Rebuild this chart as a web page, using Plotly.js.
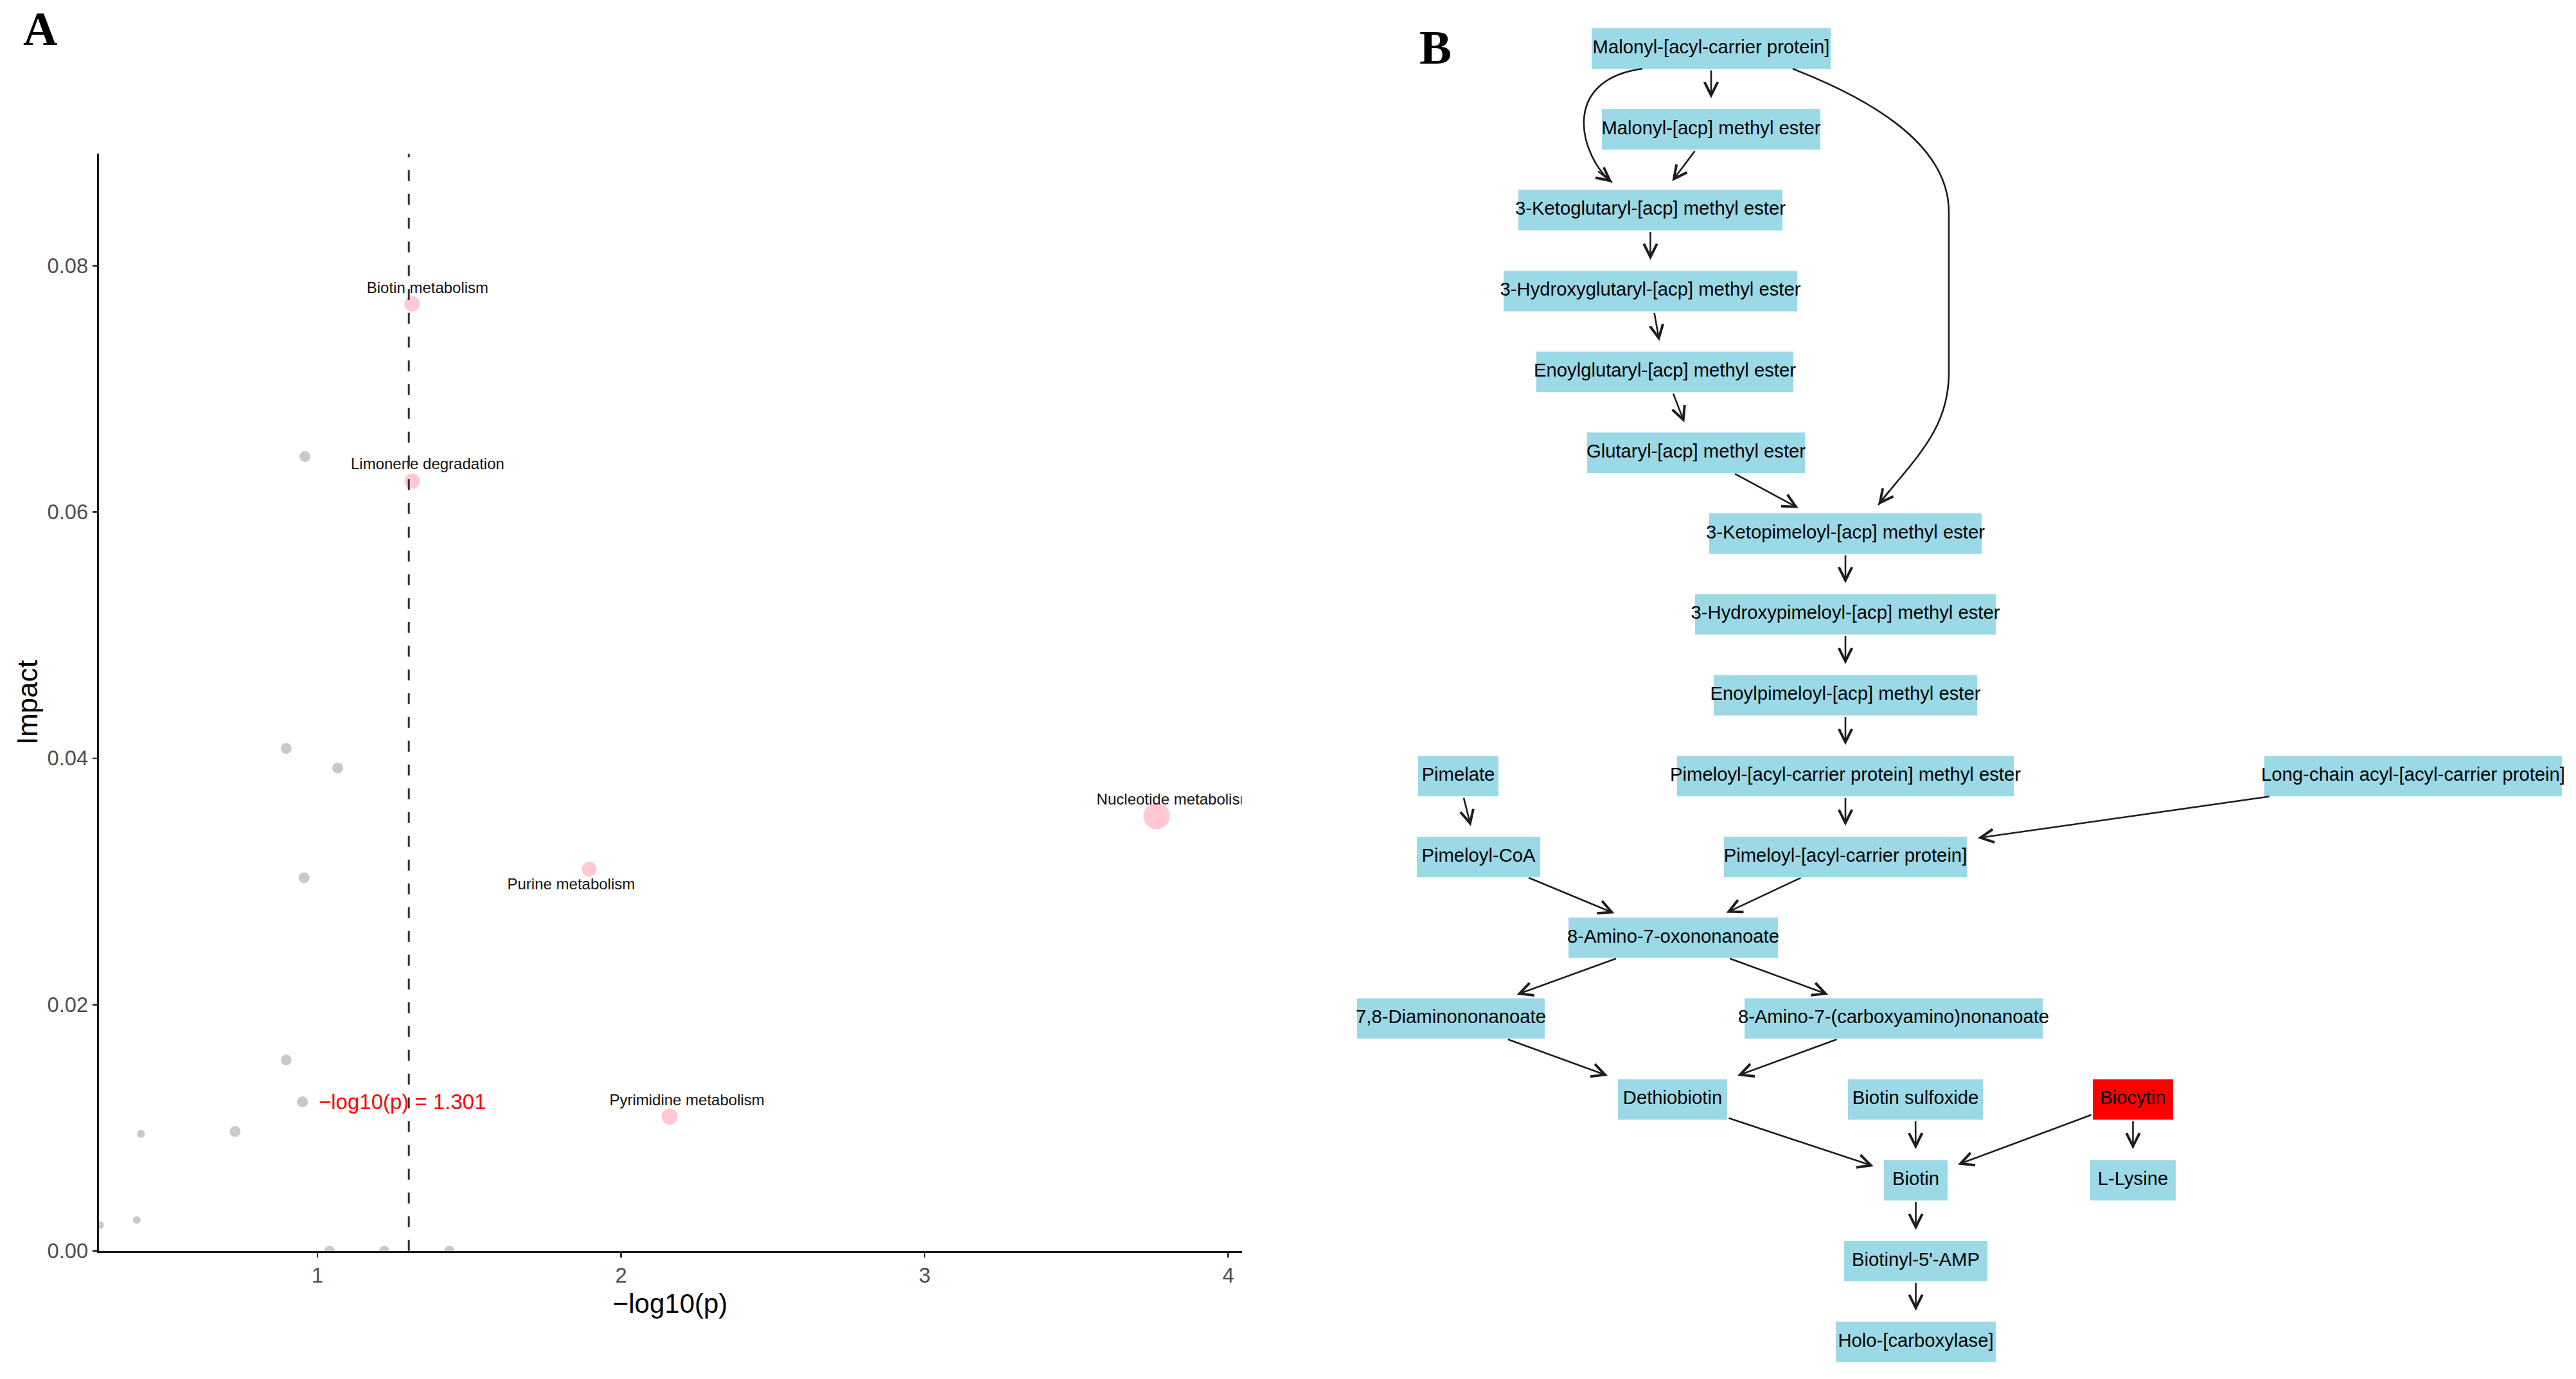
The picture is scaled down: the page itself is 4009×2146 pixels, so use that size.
<!DOCTYPE html>
<html>
<head>
<meta charset="utf-8">
<script src="https://cdn.plot.ly/plotly-3.0.1.min.js"></script>
<style>
  html, body { margin: 0; padding: 0; background: #ffffff; }
  #chart { width: 4009px; height: 2146px; }
</style>
</head>
<body>
<div id="chart"></div>
<script>
// ================= DATA =================
// Panel A: pathway analysis (x = -log10(p), y = pathway impact)
const sigPathways   = ['Biotin metabolism', 'Limonene degradation', 'Purine metabolism', 'Nucleotide metabolism', 'Pyrimidine metabolism'];
const sigNegLog10P  = [1.312, 1.312, 1.895, 3.764, 2.160];
const sigImpact     = [0.0769, 0.0625, 0.0310, 0.0353, 0.0109];

const otherNegLog10P = [0.959, 0.897, 1.067, 0.956, 0.897, 0.951, 0.419, 0.729, 0.405, 0.284, 1.040, 1.220, 1.435];
const otherImpact    = [0.0645, 0.0408, 0.0392, 0.0303, 0.0155, 0.0121, 0.0095, 0.0097, 0.0025, 0.0021, 0.0, 0.0, 0.0];

const pThreshold = 1.301;
const xTickVals  = [1, 2, 3, 4];
const yTickVals  = [0, 0.02, 0.04, 0.06, 0.08];
const yTickText  = ['0.00', '0.02', '0.04', '0.06', '0.08'];

// Panel B: biotin metabolism network
const metabolites = [
  'Malonyl-[acyl-carrier protein]', 'Malonyl-[acp] methyl ester', '3-Ketoglutaryl-[acp] methyl ester',
  '3-Hydroxyglutaryl-[acp] methyl ester', 'Enoylglutaryl-[acp] methyl ester', 'Glutaryl-[acp] methyl ester',
  '3-Ketopimeloyl-[acp] methyl ester', '3-Hydroxypimeloyl-[acp] methyl ester', 'Enoylpimeloyl-[acp] methyl ester',
  'Pimelate', 'Pimeloyl-[acyl-carrier protein] methyl ester', 'Long-chain acyl-[acyl-carrier protein]',
  'Pimeloyl-CoA', 'Pimeloyl-[acyl-carrier protein]', '8-Amino-7-oxononanoate',
  '7,8-Diaminononanoate', '8-Amino-7-(carboxyamino)nonanoate', 'Dethiobiotin',
  'Biotin sulfoxide', 'Biocytin', 'Biotin', 'L-Lysine', "Biotinyl-5'-AMP", 'Holo-[carboxylase]'
];
const matchedMetabolites = ['Biocytin'];
const reactionFrom = [
  'Malonyl-[acyl-carrier protein]', 'Malonyl-[acyl-carrier protein]', 'Malonyl-[acp] methyl ester',
  'Malonyl-[acyl-carrier protein]', '3-Ketoglutaryl-[acp] methyl ester', '3-Hydroxyglutaryl-[acp] methyl ester',
  'Enoylglutaryl-[acp] methyl ester', 'Glutaryl-[acp] methyl ester', '3-Ketopimeloyl-[acp] methyl ester',
  '3-Hydroxypimeloyl-[acp] methyl ester', 'Enoylpimeloyl-[acp] methyl ester', 'Pimeloyl-[acyl-carrier protein] methyl ester',
  'Long-chain acyl-[acyl-carrier protein]', 'Pimelate', 'Pimeloyl-CoA', 'Pimeloyl-[acyl-carrier protein]',
  '8-Amino-7-oxononanoate', '8-Amino-7-oxononanoate', '7,8-Diaminononanoate', '8-Amino-7-(carboxyamino)nonanoate',
  'Dethiobiotin', 'Biotin sulfoxide', 'Biocytin', 'Biocytin', 'Biotin', "Biotinyl-5'-AMP"
];
const reactionTo = [
  'Malonyl-[acp] methyl ester', '3-Ketoglutaryl-[acp] methyl ester', '3-Ketoglutaryl-[acp] methyl ester',
  '3-Ketopimeloyl-[acp] methyl ester', '3-Hydroxyglutaryl-[acp] methyl ester', 'Enoylglutaryl-[acp] methyl ester',
  'Glutaryl-[acp] methyl ester', '3-Ketopimeloyl-[acp] methyl ester', '3-Hydroxypimeloyl-[acp] methyl ester',
  'Enoylpimeloyl-[acp] methyl ester', 'Pimeloyl-[acyl-carrier protein] methyl ester', 'Pimeloyl-[acyl-carrier protein]',
  'Pimeloyl-[acyl-carrier protein]', 'Pimeloyl-CoA', '8-Amino-7-oxononanoate', '8-Amino-7-oxononanoate',
  '7,8-Diaminononanoate', '8-Amino-7-(carboxyamino)nonanoate', 'Dethiobiotin', 'Dethiobiotin',
  'Biotin', 'Biotin', 'Biotin', 'L-Lysine', "Biotinyl-5'-AMP", 'Holo-[carboxylase]'
];

// ================= STYLE / LAYOUT =================
function hasFont(name) {
  const c = document.createElement('canvas').getContext('2d');
  const s = 'Malonyl-[acyl-carrier protein] 0123456789';
  c.font = '40px monospace';
  const w1 = c.measureText(s).width;
  c.font = '40px "' + name + '", monospace';
  const w2 = c.measureText(s).width;
  return Math.abs(w1 - w2) > 1;
}
const NARROW_OK = hasFont('Liberation Sans Narrow');
const REG = "'Liberation Sans', Arial, sans-serif";
const NARROW = NARROW_OK ? "'Liberation Sans Narrow', 'Liberation Sans', Arial, sans-serif" : REG;
const NS = NARROW_OK ? 1 : 0.86;

const W = 4009, H = 2146;
// Panel A plot area in pixels
const A_LEFT = 153.6, A_RIGHT = 1932.5, A_TOP = 239.3, A_BOTTOM = 1946.7;
const X_RANGE = [0.2796, 4.0444];
const Y_RANGE = [0, 0.08908];
const pxPerX = (A_RIGHT - A_LEFT) / (X_RANGE[1] - X_RANGE[0]);
const pxPerY = (A_BOTTOM - A_TOP) / (Y_RANGE[1] - Y_RANGE[0]);

const sigSizes   = [24, 24, 23, 41, 25];
const otherSizes = [17, 17, 17, 17, 17, 17, 12, 17, 12, 12, 16, 16, 16];
const labelDxPx  = [24, 24, -28, 28, 27];
const labelDyPx  = [-23, -25, 25, -24, -24];
const thresholdLabelY = 0.0121;

const labelX = sigNegLog10P.map((v, i) => v + labelDxPx[i] / pxPerX);
const labelY = sigImpact.map((v, i) => v - labelDyPx[i] / pxPerY);

// Panel B node layout (pixel coordinates)
const nodeCx  = [2663, 2663, 2568.5, 2568.5, 2591, 2639.5, 2872, 2872, 2872, 2269.5, 2872, 3755.5,
                 2301, 2872, 2604, 2258, 2947, 2603, 2981, 3319.5, 2981.5, 3319.5, 2981.5, 2981.5];
const nodeRow = [0, 1, 2, 3, 4, 5, 6, 7, 8, 9, 9, 9, 10, 10, 11, 12, 12, 13, 13, 13, 14, 14, 15, 16];
const nodeW   = [372, 340, 411, 457, 400, 339, 424, 468, 410, 125, 524, 463,
                 192, 378, 326, 292, 464, 170, 210, 125, 99, 133, 223, 249];
const ROW0 = 75.5, ROWSTEP = 125.8, NODE_H = 63;
const nodeCy = nodeRow.map(r => ROW0 + ROWSTEP * r);
const NODE_BLUE = '#9cd9e6', NODE_RED = '#ff0000';
const EDGE_COLOR = '#1c1c1c';

// curved routes (layout of the two bent edges), keyed by edge index
const curvedRoutes = {
  1: { path: 'M2556,107 C2425,125 2460,245 2509,284', end: [2509, 284], dir: [49, 39] },
  3: { path: 'M2790,107 C2900,150 3033,220 3033,330 L3033,580 C3033,670 2978,715 2923,786', end: [2923, 786], dir: [-55, 71] }
};

// ================= TRACES =================
const traces = [
  {
    type: 'scatter', mode: 'markers', x: otherNegLog10P, y: otherImpact,
    marker: { size: otherSizes, color: '#b2b2b2', line: { width: 0 } },
    cliponaxis: true, hoverinfo: 'skip', showlegend: false, xaxis: 'x', yaxis: 'y'
  },
  {
    type: 'scatter', mode: 'markers', x: sigNegLog10P, y: sigImpact,
    marker: { size: sigSizes, color: '#ffb0bf', line: { width: 0 } },
    cliponaxis: true, hoverinfo: 'skip', showlegend: false, xaxis: 'x', yaxis: 'y'
  },
  {
    type: 'scatter', mode: 'text', x: labelX, y: labelY, text: sigPathways,
    textposition: 'middle center',
    textfont: { family: REG, size: 24, color: '#111111' },
    cliponaxis: true, hoverinfo: 'skip', showlegend: false, xaxis: 'x', yaxis: 'y'
  },
  {
    type: 'scatter', mode: 'text', x: nodeCx, y: nodeCy, text: metabolites,
    textposition: 'middle center',
    textfont: { family: NARROW, size: 34 * NS, color: '#000000' },
    cliponaxis: false, hoverinfo: 'skip', showlegend: false, xaxis: 'x2', yaxis: 'y2'
  }
];

// ================= SHAPES =================
const shapes = [];
shapes.push({
  type: 'line', xref: 'x', yref: 'y domain', x0: pThreshold, x1: pThreshold, y0: 0, y1: 1,
  line: { color: '#333333', width: 3, dash: '17px,20px' }, layer: 'above'
});
metabolites.forEach((m, i) => {
  shapes.push({
    type: 'rect', xref: 'x2', yref: 'y2',
    x0: nodeCx[i] - nodeW[i] / 2, x1: nodeCx[i] + nodeW[i] / 2,
    y0: nodeCy[i] - NODE_H / 2, y1: nodeCy[i] + NODE_H / 2,
    fillcolor: matchedMetabolites.includes(m) ? NODE_RED : NODE_BLUE,
    line: { width: 0 }, layer: 'below'
  });
});

// ================= ANNOTATIONS =================
const annotations = [];
annotations.push({
  xref: 'x', yref: 'y', x: pThreshold, y: thresholdLabelY, xshift: -10,
  text: '\u2212log10(p) = ' + pThreshold.toFixed(3), showarrow: false,
  font: { family: REG, size: 33, color: '#ff0000' }, xanchor: 'center', yanchor: 'middle'
});
annotations.push({
  xref: 'paper', yref: 'paper', x: 62.5 / W, y: 1 - 45.5 / H, text: '<b>A</b>', showarrow: false,
  font: { family: "'Liberation Serif', 'Times New Roman', serif", size: 74, color: '#000' },
  xanchor: 'center', yanchor: 'middle'
});
annotations.push({
  xref: 'paper', yref: 'paper', x: 2234 / W, y: 1 - 74 / H, text: '<b>B</b>', showarrow: false,
  font: { family: "'Liberation Serif', 'Times New Roman', serif", size: 75, color: '#000' },
  xanchor: 'center', yanchor: 'middle'
});

function rectExitT(hw, hh, dx, dy) {
  const tx = dx !== 0 ? hw / Math.abs(dx) : Infinity;
  const ty = dy !== 0 ? hh / Math.abs(dy) : Infinity;
  return Math.min(tx, ty);
}
const arrowStyle = { arrowhead: 5, arrowsize: 1.55, arrowwidth: 2.6, arrowcolor: EDGE_COLOR, standoff: 0, startstandoff: 0 };
const END_GAP = 17, START_GAP = 1;

reactionFrom.forEach((from, k) => {
  const s = metabolites.indexOf(from), t = metabolites.indexOf(reactionTo[k]);
  if (curvedRoutes[k]) {
    const r = curvedRoutes[k];
    shapes.push({ type: 'path', xref: 'x2', yref: 'y2', path: r.path, line: { color: EDGE_COLOR, width: 2.6 }, layer: 'above' });
    const len = Math.hypot(r.dir[0], r.dir[1]);
    annotations.push(Object.assign({
      xref: 'x2', yref: 'y2', axref: 'x2', ayref: 'y2',
      x: r.end[0], y: r.end[1], ax: r.end[0] - 30 * r.dir[0] / len, ay: r.end[1] - 30 * r.dir[1] / len,
      text: '', showarrow: true
    }, arrowStyle));
    return;
  }
  const sx = nodeCx[s], sy = nodeCy[s], tx = nodeCx[t], ty = nodeCy[t];
  const dx = tx - sx, dy = ty - sy, L = Math.hypot(dx, dy);
  const ux = dx / L, uy = dy / L;
  const ts = rectExitT(nodeW[s] / 2, NODE_H / 2, dx, dy);
  const te = rectExitT(nodeW[t] / 2, NODE_H / 2, dx, dy);
  const x0 = sx + ts * dx + START_GAP * ux, y0 = sy + ts * dy + START_GAP * uy;
  const x1 = tx - te * dx - END_GAP * ux, y1 = ty - te * dy - END_GAP * uy;
  annotations.push(Object.assign({
    xref: 'x2', yref: 'y2', axref: 'x2', ayref: 'y2',
    x: x1, y: y1, ax: x0, ay: y0, text: '', showarrow: true
  }, arrowStyle));
});

// ================= LAYOUT =================
const tickFont = { family: NARROW, size: 38 * NS, color: '#4d4d4d' };
const layout = {
  width: W, height: H,
  margin: { l: 0, r: 0, t: 0, b: 0, pad: 0 },
  paper_bgcolor: '#ffffff', plot_bgcolor: '#ffffff',
  showlegend: false,
  xaxis: {
    domain: [A_LEFT / W, A_RIGHT / W], range: X_RANGE, anchor: 'y',
    showline: true, linecolor: '#1a1a1a', linewidth: 3, mirror: false,
    ticks: 'outside', ticklen: 7, tickwidth: 2.5, tickcolor: '#333333',
    tickmode: 'array', tickvals: xTickVals, tickfont: tickFont,
    showgrid: false, zeroline: false, fixedrange: true,
    title: { text: '\u2212log10(p)', font: { family: REG, size: 42, color: '#000000' }, standoff: 12 }
  },
  yaxis: {
    domain: [1 - A_BOTTOM / H, 1 - A_TOP / H], range: Y_RANGE, anchor: 'x',
    showline: true, linecolor: '#1a1a1a', linewidth: 3,
    ticks: 'outside', ticklen: 7, tickwidth: 2.5, tickcolor: '#333333',
    tickmode: 'array', tickvals: yTickVals, ticktext: yTickText, tickfont: tickFont,
    showgrid: false, zeroline: false, fixedrange: true,
    title: { text: 'Impact', font: { family: REG, size: 44, color: '#000000' }, standoff: 2 }
  },
  xaxis2: { domain: [0.5, 1], range: [W * 0.5, W], anchor: 'y2', visible: false, fixedrange: true },
  yaxis2: { domain: [0, 1], range: [H, 0], anchor: 'x2', visible: false, fixedrange: true },
  shapes: shapes,
  annotations: annotations
};

Plotly.newPlot('chart', traces, layout, { staticPlot: true, displayModeBar: false });
</script>
</body>
</html>
